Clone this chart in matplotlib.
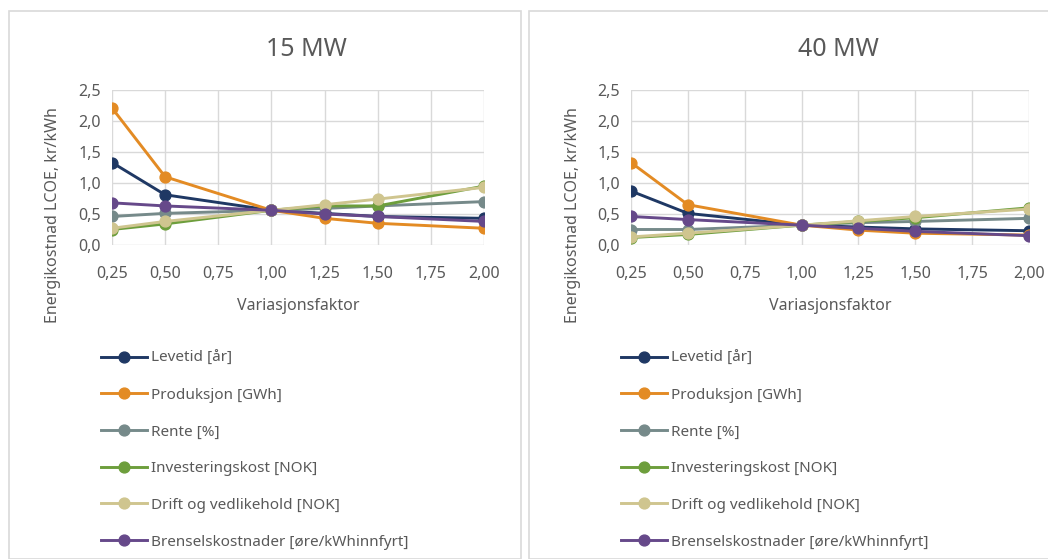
import matplotlib.pyplot as plt
from matplotlib.patches import Rectangle
from matplotlib.ticker import FuncFormatter, MultipleLocator

plt.rcParams['font.family'] = ['Noto Sans', 'DejaVu Sans']

# data
faktor = [0.25, 0.5, 1.0, 1.25, 1.5, 2.0]
serier = ['Levetid [år]', 'Produksjon [GWh]', 'Rente [%]', 'Investeringskost [NOK]',
          'Drift og vedlikehold [NOK]', 'Brenselskostnader [øre/kWhinnfyrt]']
farger = ['#1F3864', '#E38B24', '#768A8A', '#6D9E3C', '#CFC58F', '#66498A']

lcoe_15 = [
    [1.33, 0.81, 0.56, 0.51, 0.46, 0.43],
    [2.21, 1.10, 0.56, 0.43, 0.35, 0.27],
    [0.46, 0.51, 0.56, 0.59, 0.63, 0.70],
    [0.25, 0.34, 0.56, 0.63, 0.63, 0.95],
    [0.27, 0.38, 0.56, 0.65, 0.74, 0.93],
    [0.68, 0.63, 0.56, 0.50, 0.46, 0.38],
]
lcoe_40 = [
    [0.87, 0.51, 0.32, 0.29, 0.26, 0.23],
    [1.33, 0.65, 0.32, 0.24, 0.19, 0.16],
    [0.25, 0.25, 0.32, 0.36, 0.38, 0.43],
    [0.12, 0.17, 0.32, 0.38, 0.44, 0.60],
    [0.13, 0.19, 0.32, 0.39, 0.46, 0.58],
    [0.46, 0.41, 0.32, 0.27, 0.22, 0.15],
]
titler = ['15 MW', '40 MW']

W, H = 1048, 559
fig = plt.figure(figsize=(W / 100, H / 100), dpi=100)
tekst = '#595959'
grid = '#D9D9D9'


def px(x0, y0, x1, y1):
    # pixel box (top-left origin) -> figure fractions
    return [x0 / W, 1 - y1 / H, (x1 - x0) / W, (y1 - y0) / H]


def komma(v, pos, d):
    return f'{v:.{d}f}'.replace('.', ',')


paneler = [(9, 521, 112, 484), (529, 1052, 631, 1029)]
for k, (data, tittel) in enumerate(zip([lcoe_15, lcoe_40], titler)):
    p0, p1, a0, a1 = paneler[k]
    fig.patches.append(Rectangle((p0 / W, 0), (p1 - p0) / W, 1 - 11 / H, transform=fig.transFigure,
                                 fill=False, edgecolor=grid, linewidth=1.2))
    ax = fig.add_axes(px(a0, 90, a1, 245))
    for navn, farge, verdier in zip(serier, farger, data):
        ax.plot(faktor, verdier, color=farge, lw=2.1, marker='o', ms=7.8, label=navn)
    ax.set_xlim(0.25, 2.0)
    ax.set_ylim(0, 2.5)
    ax.xaxis.set_major_locator(MultipleLocator(0.25))
    ax.yaxis.set_major_locator(MultipleLocator(0.5))
    ax.xaxis.set_major_formatter(FuncFormatter(lambda v, p: komma(v, p, 2)))
    ax.yaxis.set_major_formatter(FuncFormatter(lambda v, p: komma(v, p, 1)))
    ax.grid(True, color=grid, lw=1)
    ax.set_axisbelow(True)
    for s in ax.spines.values():
        s.set_visible(False)
    ax.tick_params(length=0, labelsize=11.5, colors=tekst, pad=8)
    ax.tick_params(axis='x', pad=15)
    ax.set_xlabel('Variasjonsfaktor', fontsize=11.5, color=tekst, labelpad=12)
    ax.set_ylabel('Energikostnad LCOE, kr/kWh', fontsize=11.5, color=tekst)
    ax.yaxis.set_label_coords((p0 + 44 - a0) / (a1 - a0), (245 - 215) / 155)
    ax.yaxis.label.set_va('center')
    fig.text(((a0 + a1) / 2 + 8) / W, 1 - 49 / H, tittel, fontsize=18, color=tekst,
             ha='center', va='center')
    ax.legend(loc='upper left', bbox_to_anchor=((p0 + 92) / W, 1 - 351 / H),
              bbox_transform=fig.transFigure, frameon=False, fontsize=11,
              labelcolor=tekst, handlelength=3.0, handletextpad=0.25,
              labelspacing=1.42, borderaxespad=0, borderpad=0)

fig.savefig('out.png', dpi=100)
